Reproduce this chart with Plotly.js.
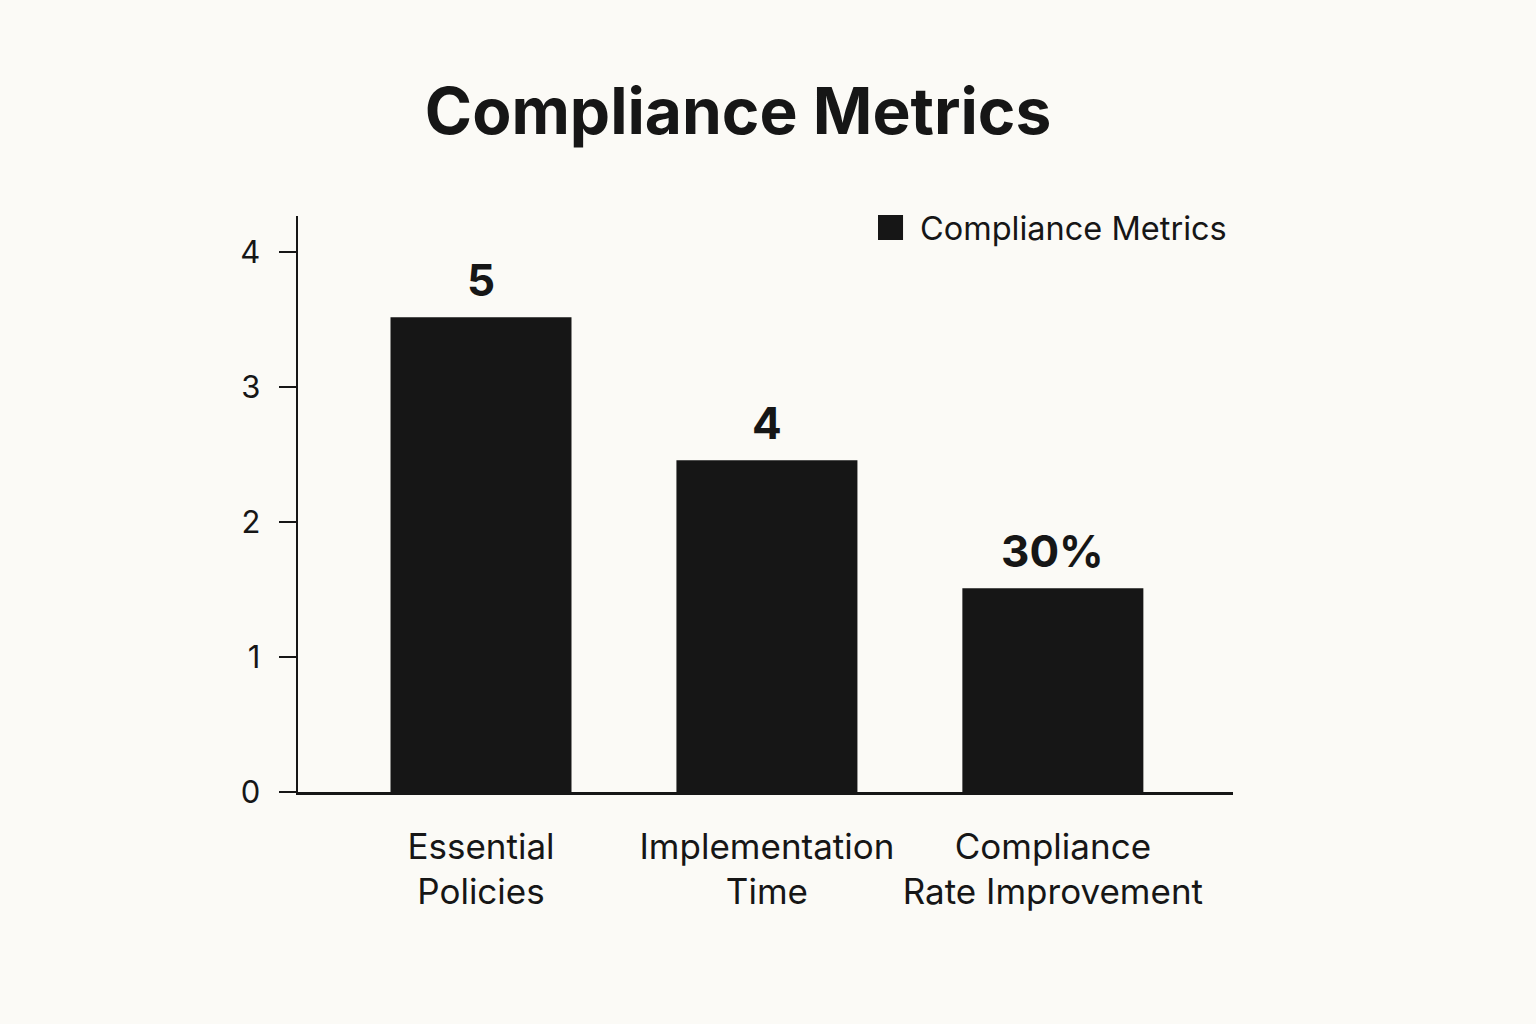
<!DOCTYPE html>
<html>
<head>
<meta charset="utf-8">
<script src="https://cdn.plot.ly/plotly-3.0.1.min.js"></script>
<style>
  html, body { margin: 0; padding: 0; background: #fbfaf6; }
  #chart { width: 1536px; height: 1024px; }
</style>
</head>
<body>
<div id="chart"></div>
<script>
var CATEGORIES = ["Essential<br>Policies", "Implementation<br>Time", "Compliance<br>Rate Improvement"];
var VALUES = [3.52, 2.46, 1.51];
var BAR_LABELS = ["5", "4", "30%"];
var Y_TICKS = [0, 1, 2, 3, 4];
var SERIES_NAME = "Compliance Metrics";

var INK = "#161616";
var FONT = "Inter, 'Noto Sans', sans-serif";

var bars = {
  type: "bar",
  x: CATEGORIES,
  y: VALUES,
  name: SERIES_NAME,
  showlegend: false,
  marker: { color: INK, line: { width: 0 } },
  width: 0.633,
  hoverinfo: "skip"
};

var labels = CATEGORIES.map(function (c, i) {
  return {
    x: c,
    y: VALUES[i],
    xref: "x",
    yref: "y",
    text: BAR_LABELS[i],
    showarrow: false,
    yanchor: "bottom",
    yshift: 8,
    font: { family: FONT, size: 44, color: INK, weight: 700 }
  };
});

// legend drawn by hand so the swatch can be as large as in the reference
labels.push({
  xref: "paper",
  yref: "paper",
  x: 0.6631,
  y: 0.979,
  xanchor: "left",
  yanchor: "middle",
  text: SERIES_NAME,
  showarrow: false,
  font: { family: FONT, size: 32.5, color: INK }
});

var layout = {
  width: 1536,
  height: 1024,
  paper_bgcolor: "#fbfaf6",
  plot_bgcolor: "#fbfaf6",
  margin: { l: 298, r: 303, t: 216, b: 232 },
  title: {
    text: "<b>Compliance Metrics</b>",
    x: 0.4805,
    xanchor: "center",
    y: 0.891,
    yanchor: "middle",
    font: { family: FONT, size: 64, color: INK }
  },
  showlegend: false,
  shapes: [{
    type: "rect",
    xref: "paper",
    yref: "paper",
    x0: 0.6203, x1: 0.6471,
    y0: 0.9583, y1: 1.0017,
    fillcolor: INK,
    line: { width: 0 }
  }],
  xaxis: {
    type: "category",
    range: [-0.64, 2.63],
    showline: true,
    linecolor: INK,
    linewidth: 2.5,
    ticks: "",
    showgrid: false,
    zeroline: false,
    ticklabelstandoff: 22,
    tickfont: { family: FONT, size: 35, color: INK }
  },
  yaxis: {
    range: [0, 4.27],
    tickvals: Y_TICKS,
    ticktext: Y_TICKS.map(String),
    showline: true,
    linecolor: INK,
    linewidth: 2.5,
    ticks: "outside",
    ticklen: 17,
    tickwidth: 2,
    tickcolor: INK,
    showgrid: false,
    zeroline: false,
    ticklabelstandoff: 12,
    tickfont: { family: FONT, size: 31, color: INK }
  },
  annotations: labels
};

Plotly.newPlot("chart", [bars], layout, { displayModeBar: false, staticPlot: true });
</script>
</body>
</html>
